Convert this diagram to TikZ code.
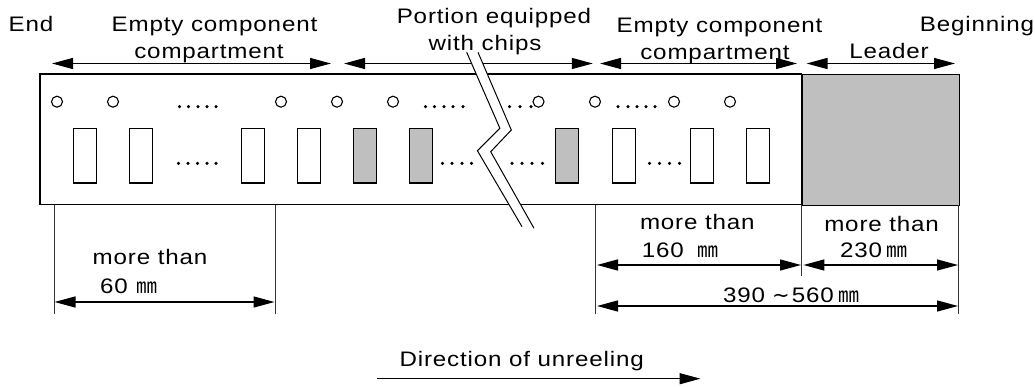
\documentclass[tikz,border=0pt]{standalone}
\usepackage{fontspec}
\setmainfont[FakeStretch=1.15,LetterSpace=4]{Liberation Sans}
\newfontfamily\cjk{Noto Sans CJK KR}
\newfontfamily\symfont{DejaVu Sans}
\usetikzlibrary{arrows.meta}
\newcommand{\mmu}{{\cjk\fontsize{21}{21}\selectfont ㎜}}
\newcommand{\wavesym}{{\symfont\fontsize{21}{21}\selectfont ∼}}
\definecolor{chipgray}{HTML}{BFBFBF}
\tikzset{
  lbl/.style={anchor=base,inner sep=0pt,font=\fontsize{21}{21}\selectfont,text=black},
  lblw/.style={lbl,anchor=base west},
  line/.style={line width=1.1pt,draw=black},
  dimarrow/.style={line width=1.3pt,draw=black,{Triangle[length=21pt,width=11pt]}-{Triangle[length=21pt,width=11pt]}},
  ext/.style={line width=1pt,draw=black!80},
  hole/.style={circle,draw=black,line width=1.1pt,fill=white,minimum size=11pt,inner sep=0pt},
  empty/.style={draw=black,line width=1.1pt,fill=white,minimum width=23pt,minimum height=54.5pt,inner sep=0pt},
  chip/.style={empty,fill=chipgray},
  dotmark/.style={circle,fill=black,minimum size=3.5pt,inner sep=0pt}
}
\begin{document}
\begin{tikzpicture}[x=1pt,y=-1pt]
\useasboundingbox (0,0) rectangle (1035,387);
% tape
\draw[line] (40,74) rectangle (801.7,204.7);
\node[draw=black,line width=1.1pt,fill=chipgray,minimum width=156.8pt,minimum height=130.7pt,inner sep=0pt,anchor=north west] (leader) at (801.7,74) {};
% sprocket holes
\foreach \n/\x in {a/57,b/113,c/281,d/337,e/393,f/538.5,g/595,h/674,i/730}
  \node[hole] (h\n) at (\x,101.7) {};
% compartments
\foreach \n/\x in {a/85,b/141.2,c/253,d/309,g/623.6,h/701.7,i/758.4}
  \node[empty] (c\n) at (\x,155.8) {};
\foreach \n/\x in {e/365.2,f/420.8,j/567}
  \node[chip] (c\n) at (\x,155.8) {};
% dots
\foreach \x in {179.5,188.5,198,207,216} \node[dotmark] at (\x,106.7) {};
\foreach \x in {425.5,434.5,444,453,463} \node[dotmark] at (\x,106.7) {};
\foreach \x in {509.5,520,531} \node[dotmark] at (\x,106.7) {};
\foreach \x in {618,628,637,646,655} \node[dotmark] at (\x,106.7) {};
\foreach \x in {178.5,188,197.5,207,216} \node[dotmark] at (\x,163.3) {};
\foreach \x in {442.5,452,462,471.5} \node[dotmark] at (\x,163.3) {};
\foreach \x in {512,522,532,542.5} \node[dotmark] at (\x,163.3) {};
\foreach \x in {649.5,659.5,669.5,679.5} \node[dotmark] at (\x,163.3) {};
% dimension coordinates
\foreach \n/\x/\y in {ea/54/205,eb/275/205,ec/595.3/205,ed/801.7/205,ee/958.5/205,
  fa/54/314,fb/275/314,fc/595.3/314,fd/801.7/276,fe/958.5/314,
  ta/52/63.5,tb/331/63.5,tc/344/63.5,td/592.8/63.5,te/600/63.5,tf/797/63.5,tg/806.5/63.5,th/955/63.5,
  ma/54.5/302,mb/274.5/302,mc/597/265,md/801/265,me/803.4/265,mf/958/265,mg/597/306,mh/958/306,
  ua/377/378.7,ub/700.5/378.7}
  \coordinate (\n) at (\x,\y);
\foreach \s/\t in {ea/fa,eb/fb,ec/fc,ed/fd,ee/fe} \draw[ext] (\s) -- (\t);
\foreach \s/\t in {ta/tb,tc/td,te/tf,tg/th,ma/mb,mc/md,me/mf,mg/mh} \draw[dimarrow] (\s) -- (\t);
\draw[line width=1.3pt,-{Triangle[length=21pt,width=11pt]}] (ua) -- (ub);
% break
\fill[white] (466.7,52) -- (499.9,128.3) -- (477.4,150.7) -- (522,226.7) -- (534,228.3) -- (490.7,151.7) -- (511.3,130) -- (478,52) -- cycle;
\draw[line width=1pt] (466.7,52.3) -- (499.9,128.3) -- (477.4,150.7) -- (522,226.7);
\draw[line width=1pt] (478,52.3) -- (511.3,130) -- (490.7,151.7) -- (534,228.3);
% labels
\node[lbl] (tEnd) at (31,32) {End};
\node[lbl] (tE1) at (214.5,32) {Empty component};
\node[lbl] (tC1) at (209,59) {compartment};
\node[lbl] (tP) at (494,24) {Portion equipped};
\node[lbl] (tW) at (485,51) {with chips};
\node[lbl] (tE2) at (719.5,32.5) {Empty component};
\node[lbl] (tC2) at (715,60) {compartment};
\node[lbl] (tB) at (977,32) {Beginning};
\node[lbl] (tL) at (889,59) {Leader};
\node[lbl] (tM1) at (150,265) {more than};
\node[lblw] (t60) at (100,293) {60\hspace{9pt}\mmu};
\node[lbl] (tM2) at (697.3,230) {more than};
\node[lblw] (t160) at (641.7,257.5) {160\hspace{14pt}\mmu};
\node[lbl] (tM3) at (881.6,232) {more than};
\node[lblw] (t230) at (840,258) {230\hspace{4pt}\mmu};
\node[lblw] (t390) at (723,302.7) {390\hspace{7pt}\wavesym\hspace{2pt}560\hspace{5pt}\mmu};
\node[lbl] (tD) at (521.7,366) {Direction of unreeling};
\end{tikzpicture}
\end{document}
